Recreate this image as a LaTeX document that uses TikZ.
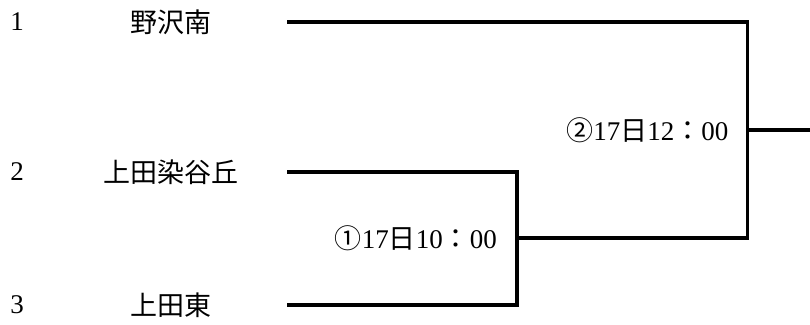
\documentclass[tikz,border=0pt]{standalone}
\usepackage{fontspec}
\setmainfont{Liberation Serif}
\newfontfamily\jp{Noto Sans CJK JP}
\begin{document}
\begin{tikzpicture}[x=1pt,y=-1pt,
	team/.style={inner sep=0,font=\fontsize{27}{30}\selectfont\jp},
	seed/.style={inner sep=0,font=\fontsize{27}{30}\selectfont},
	slot/.style={inner sep=0,anchor=east,font=\fontsize{27}{30}\selectfont},
	bracket/.style={line width=3.2pt}]
	\useasboundingbox (0,0) rectangle (810,324);
	\node[seed] (n1) at (17,22) {1};
	\node[seed] (n2) at (17,172) {2};
	\node[seed] (n3) at (17,305) {3};
	\node[team] (a) at (171,22) {野沢南};
	\node[team] (b) at (171,172) {上田染谷丘};
	\node[team] (c) at (171,305) {上田東};
	\coordinate (a1) at (287,22);
	\coordinate (b1) at (287,172);
	\coordinate (c1) at (287,305);
	\coordinate (m1) at (517,238);
	\coordinate (m2) at (747.5,130);
	\coordinate (w) at (810,130);
	\draw[bracket] (b1) -| (m1) |- (c1);
	\draw[bracket] (a1) -| (m2) |- (m1);
	\draw[bracket] (m2) -- (w);
	\node[slot] (g1) at ([xshift=-20pt]m1) {{\jp ①}17{\jp 日}10{\jp ：}00};
	\node[slot] (g2) at ([xshift=-19pt]m2) {{\jp ②}17{\jp 日}12{\jp ：}00};
\end{tikzpicture}
\end{document}
